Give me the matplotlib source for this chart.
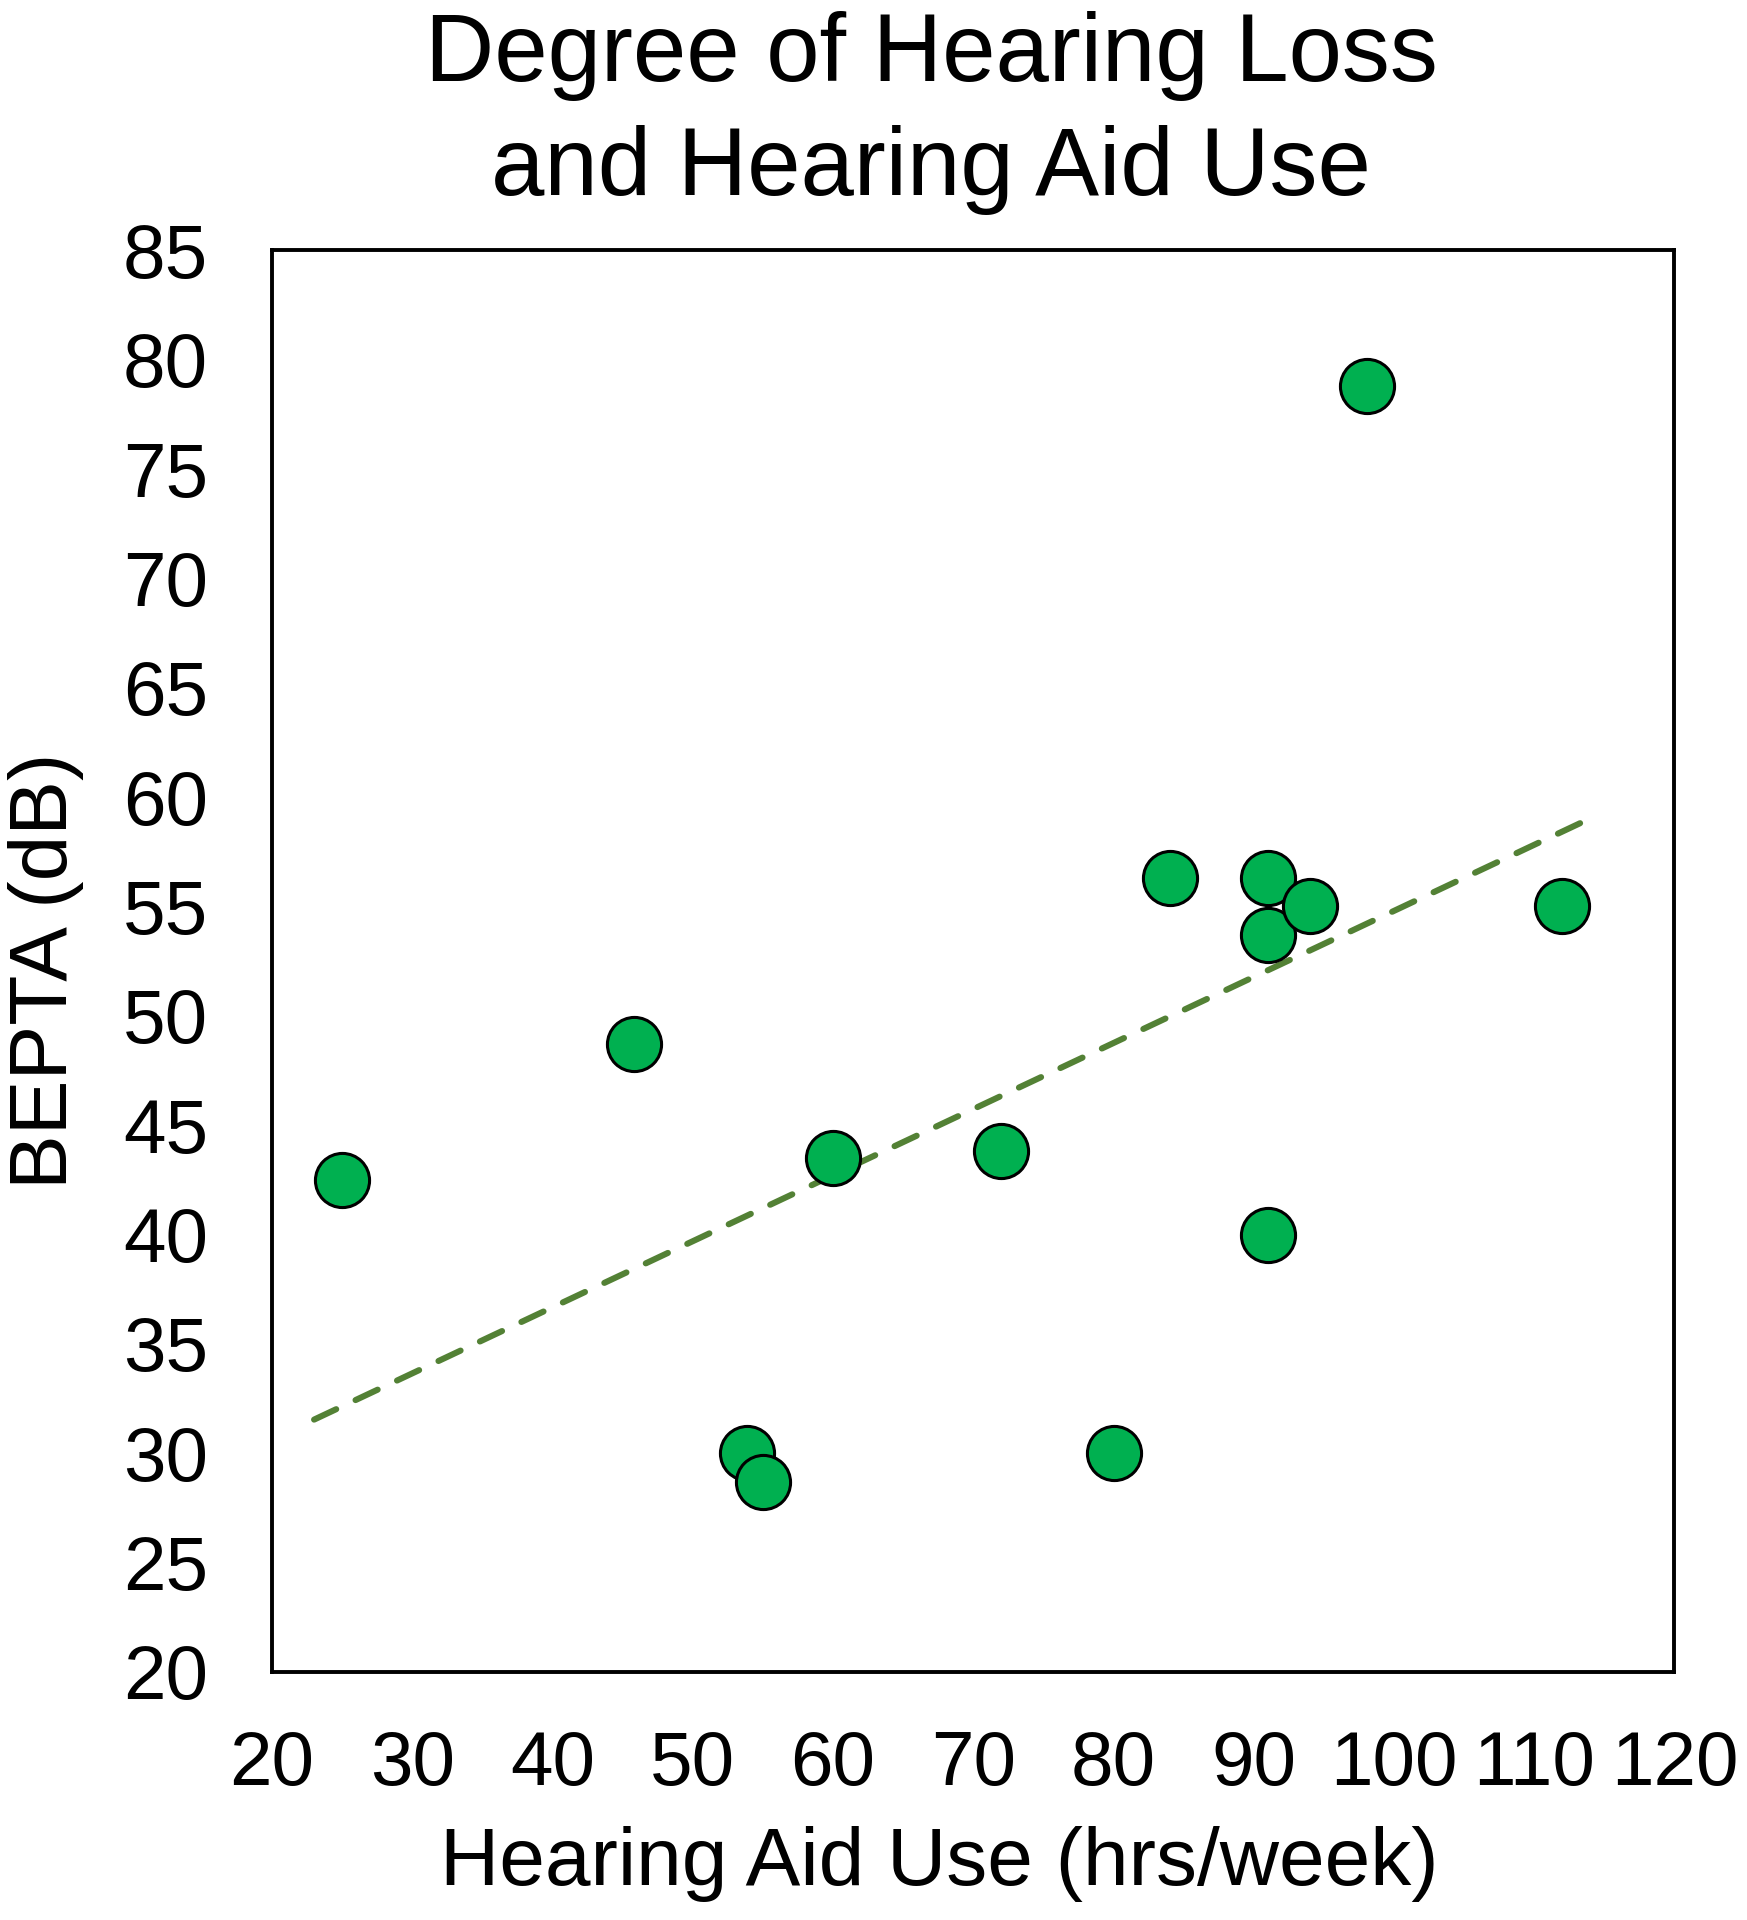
import numpy as np
import matplotlib
matplotlib.use('Agg')
import matplotlib.pyplot as plt

plt.rcParams['font.family'] = ['Liberation Sans', 'DejaVu Sans']

# hearing aid use (hrs/week) and better-ear PTA (dB)
use_hrs = [25, 45.8, 53.9, 55, 60, 72, 80, 84, 91, 91, 94, 91, 98.1, 112]
bepta_db = [42.5, 48.7, 30, 28.7, 43.5, 43.8, 30, 56.3, 56.3, 53.7, 55, 40, 78.8, 55]
trend_range = [23, 114]
x_ticks = [20, 30, 40, 50, 60, 70, 80, 90, 100, 110, 120]
y_ticks = [20, 25, 30, 35, 40, 45, 50, 55, 60, 65, 70, 75, 80, 85]

fig = plt.figure(figsize=(17.47, 19.2), dpi=100)
ax = fig.add_axes([0.1557, 0.1292, 0.8028, 0.7404])

slope, icpt = np.polyfit(use_hrs, bepta_db, 1)
tx = np.array(trend_range)
ax.plot(tx, slope * tx + icpt, color='#538135', lw=4.4,
        linestyle=(0, (4, 3.5)), dash_capstyle='round', zorder=2)

ax.scatter(use_hrs, bepta_db, s=1520, c='#00B050', edgecolors='black',
           linewidths=2.2, zorder=3)

ax.set_xlim(20, 120)
ax.set_ylim(20, 85)
ax.set_xticks(x_ticks)
ax.set_yticks(y_ticks)
ax.tick_params(length=0, labelsize=55, pad=46)
ax.tick_params(axis='x', pad=42)
for sp in ax.spines.values():
    sp.set_linewidth(2.8)

ax.set_xlabel('Hearing Aid Use (hrs/week)', fontsize=59, labelpad=18, x=0.476)
ax.set_ylabel('BEPTA (dB)', fontsize=59, labelpad=28, y=0.493)
ax.set_title('Degree of Hearing Loss\nand Hearing Aid Use', fontsize=69,
             linespacing=1.34, pad=40, x=0.47)

fig.savefig('out.png', dpi=100, facecolor='white')
